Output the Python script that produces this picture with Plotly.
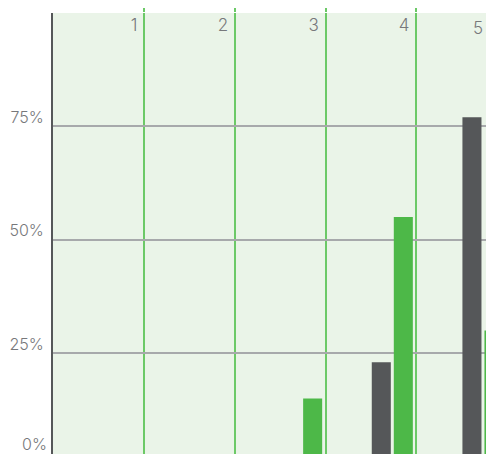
import plotly.graph_objects as go

categories = [1, 2, 3, 4, 5]
tick_labels = ["1", "2", "3", "4", "5"]
y_ticks = [0, 25, 50, 75]
y_tick_labels = ["0%", "25%", "50%", "75%"]
gray_values = [0, 0, 0, 23, 77]
green_values = [0, 0, 15, 55, 30]

GRAY = "#555759"
GREEN = "#4db848"
TEXT = "#77787b"
FONT = dict(family="Inter", color=TEXT, size=16, weight=300)
XFONT = dict(family="Inter", color=TEXT, size=17, weight=300)

fig = go.Figure()
fig.add_trace(go.Bar(x=categories, y=gray_values, marker_color=GRAY,
                     marker_line_width=0, offset=-0.493, width=0.21, name="A"))
fig.add_trace(go.Bar(x=categories, y=green_values, marker_color=GREEN,
                     marker_line_width=0, offset=-0.25, width=0.21, name="B"))

x_max = 4.767
y_min = 2.76

fig.update_layout(
    width=478, height=446,
    margin=dict(l=45, r=0, t=5, b=0),
    paper_bgcolor="white",
    plot_bgcolor="#eaf4e8",
    showlegend=False,
    font=FONT,
)
fig.update_xaxes(
    side="top", range=[-0.009, x_max], automargin=False,
    tickvals=categories, ticktext=tick_labels,
    tickfont=XFONT,
    showgrid=True, gridcolor="#6cc967", gridwidth=2,
    ticks="outside", ticklen=13, tickcolor="#6cc967", tickwidth=2,
    ticklabelposition="inside left", ticklabelshift=-6,
    zeroline=False, showline=False,
)
fig.update_yaxes(
    range=[y_min, 100], automargin=False,
    tickvals=y_ticks, ticktext=y_tick_labels,
    tickfont=FONT,
    showgrid=True, gridcolor="#a7a9ab", gridwidth=2,
    ticklabelposition="outside top", ticklabelshift=2, ticklabelstandoff=4,
    showline=True, linecolor="#555759", linewidth=2,
    zeroline=False, ticks="",
)
# labels whose tick falls just outside the visible range
fig.add_annotation(text=y_tick_labels[0], xref="paper", yref="paper", x=0, y=0,
                   xanchor="right", yanchor="bottom", xshift=-4, yshift=-2,
                   showarrow=False, font=FONT)
fig.add_annotation(text=tick_labels[-1], xref="paper", yref="paper", x=1, y=1,
                   xanchor="right", yanchor="top", xshift=-1, yshift=-3,
                   showarrow=False, font=XFONT)
fig.write_html("out.html")
